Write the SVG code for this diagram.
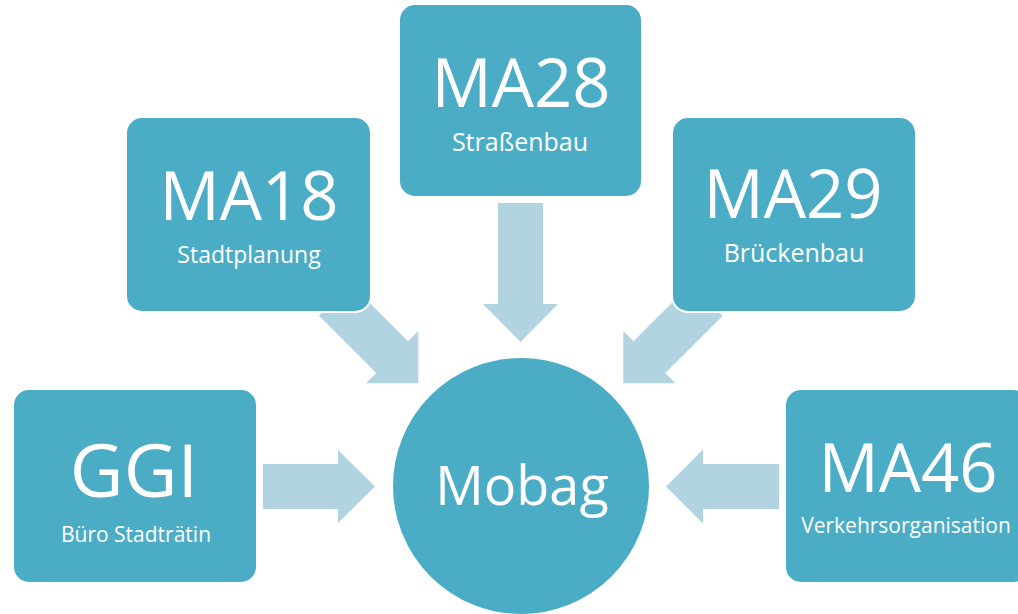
<svg xmlns="http://www.w3.org/2000/svg" width="1018" height="614" viewBox="0 0 1018 614">
  <style>
    .node { fill: #4BACC6; stroke: #FFFFFF; stroke-width: 2; }
    .arrow { fill: #B2D4E0; stroke: none; }
    text { font-family: "Open Sans", "Noto Sans", "Liberation Sans", sans-serif; fill: #FFFFFF; text-anchor: middle; }
    .big { font-size: 67px; }
  </style>
  <rect width="1018" height="614" fill="#FFFFFF"/>
  <g id="connectors">
    <path class="arrow" transform="translate(418.3,383.3) rotate(45)" d="M0 0 L-37 -37 L-37 -22.5 L-118 -22.5 L-118 22.5 L-37 22.5 L-37 37 Z"/>
    <path class="arrow" transform="translate(520.5,342) rotate(90)" d="M0 0 L-38 -37.5 L-38 -22.5 L-139 -22.5 L-139 22.5 L-38 22.5 L-38 37.5 Z"/>
    <path class="arrow" transform="translate(623.3,383.3) rotate(135)" d="M0 0 L-37 -37 L-37 -22.5 L-118 -22.5 L-118 22.5 L-37 22.5 L-37 37 Z"/>
    <path class="arrow" transform="translate(375,486.5)" d="M0 0 L-37 -36.5 L-37 -22.5 L-112 -22.5 L-112 22.5 L-37 22.5 L-37 36.5 Z"/>
    <path class="arrow" transform="translate(666,486.5) rotate(180)" d="M0 0 L-37 -37 L-37 -22.5 L-113 -22.5 L-113 22.5 L-37 22.5 L-37 37 Z"/>
  </g>
  <g id="ma28">
    <rect class="node" x="399" y="4" width="243" height="193" rx="16"/>
    <text class="big" x="521" y="107">MA28</text>
    <text x="520" y="151" font-size="25">Straßenbau</text>
  </g>
  <g id="ma18">
    <rect class="node" x="126" y="117" width="245" height="195" rx="16"/>
    <text class="big" x="249" y="220">MA18</text>
    <text x="249" y="263" font-size="23">Stadtplanung</text>
  </g>
  <g id="ma29">
    <rect class="node" x="672" y="117" width="244" height="195" rx="16"/>
    <text class="big" x="793" y="218">MA29</text>
    <text x="794" y="262" font-size="25">Brückenbau</text>
  </g>
  <g id="ggi">
    <rect class="node" x="13" y="389" width="244" height="194" rx="16"/>
    <text x="134" y="497" font-size="74">GGI</text>
    <text x="136" y="542" font-size="21">Büro Stadträtin</text>
  </g>
  <g id="ma46">
    <rect class="node" x="785" y="389" width="244" height="194" rx="16"/>
    <text x="908" y="492" font-size="67">MA46</text>
    <text x="906" y="533" font-size="21">Verkehrsorganisation</text>
  </g>
  <g id="mobag">
    <circle class="node" cx="521" cy="486" r="129"/>
    <text x="522" y="505" font-size="54">Mobag</text>
  </g>
</svg>
